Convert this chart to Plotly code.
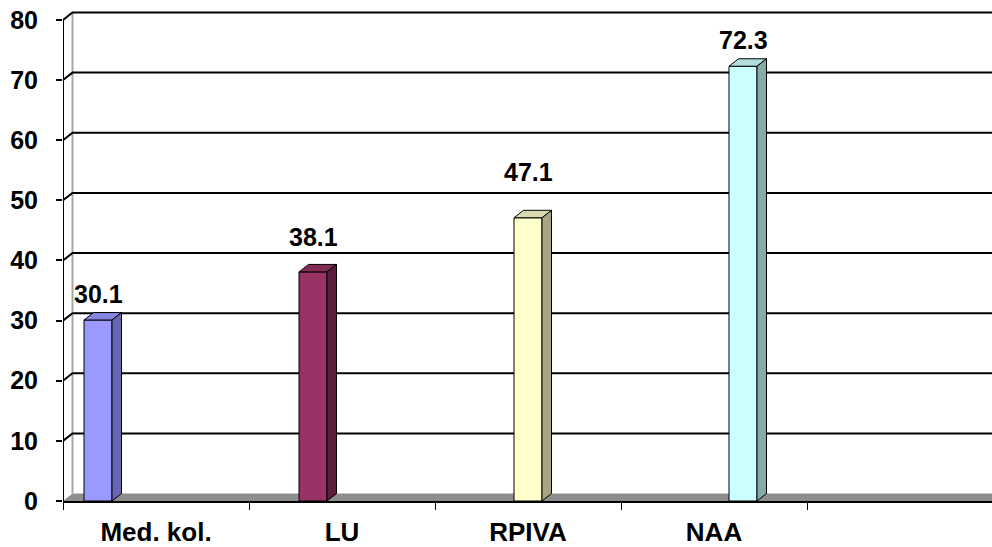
import plotly.graph_objects as go

# ---- data -------------------------------------------------------------
categories = ["Med. kol.", "LU", "RPIVA", "NAA", ""]
values = [30.1, 38.1, 47.1, 72.3]
y_ticks = [0, 10, 20, 30, 40, 50, 60, 70, 80]

# ---- colours: front / top / side face of each column -------------------
front_colors = ["#9999FF", "#993366", "#FFFFCC", "#CCFFFF"]
top_colors = ["#8585E0", "#822B57", "#DADAB0", "#B0DEDE"]
side_colors = ["#6666B3", "#5E1F3E", "#A6A684", "#86AAAA"]

FONT = "Liberation Sans, Arial, Helvetica, sans-serif"

# ---- geometry of the page ---------------------------------------------
W, H = 992, 547
m_l, m_r, m_t, m_b = 63, 0, 8, 43
plot_w = W - m_l - m_r
plot_h = H - m_t - m_b
cat_px = 186                        # pixels per category
y_top_px = 20                       # pixel row of the top tick
px_per_y = (H - m_b - y_top_px) / y_ticks[-1]

x0 = -0.5
x_max = x0 + plot_w / cat_px
y_max = plot_h / px_per_y

# 3-D depth offset (right and up), in data units
dx = 9.5 / cat_px
dy = 7.5 / px_per_y

slot = 29 / cat_px                  # spacing of series within a category
bar_w = 28 / cat_px
n_series = 5

fig = go.Figure()
shapes = []

# floor
x_end = x_max + 0.2
shapes.append(dict(
    type="path", layer="below", xref="x", yref="y",
    path=f"M {x0},0 L {x_end},0 L {x_end + dx},{dy} L {x0 + dx},{dy} Z",
    fillcolor="#8E8E8E", line=dict(width=0)))

# back-wall left edge
shapes.append(dict(
    type="line", layer="below", xref="x", yref="y",
    x0=x0 + dx, y0=dy, x1=x0 + dx, y1=y_ticks[-1] + dy,
    line=dict(color="#A8A8A8", width=2)))

# gridlines: diagonal across the side wall, then along the back wall
for v in y_ticks[1:]:
    shapes.append(dict(
        type="path", layer="below", xref="x", yref="y",
        path=f"M {x0},{v} L {x0 + dx},{v + dy} L {x_end},{v + dy}",
        line=dict(color="#000000", width=2)))

# front value axis line
shapes.append(dict(
    type="line", layer="below", xref="x", yref="y",
    x0=x0, y0=0, x1=x0, y1=y_ticks[-1],
    line=dict(color="#000000", width=2)))

annotations = []
label_shift = [26, 35, 46, 26]

for j, v in enumerate(values):
    off = (j - (n_series - 1) / 2) * slot
    fig.add_trace(go.Bar(
        x=[j], y=[v], width=bar_w, offset=off - bar_w / 2,
        marker=dict(color=front_colors[j], line=dict(color="#000000", width=1)),
        hoverinfo="skip", showlegend=False))
    c = j + off
    left, right = c - bar_w / 2, c + bar_w / 2
    # top face
    shapes.append(dict(
        type="path", layer="above", xref="x", yref="y",
        path=(f"M {left},{v} L {right},{v} L {right + dx},{v + dy} "
              f"L {left + dx},{v + dy} Z"),
        fillcolor=top_colors[j], line=dict(color="#000000", width=1)))
    # side face
    shapes.append(dict(
        type="path", layer="above", xref="x", yref="y",
        path=(f"M {right},0 L {right},{v} L {right + dx},{v + dy} "
              f"L {right + dx},{dy} Z"),
        fillcolor=side_colors[j], line=dict(color="#000000", width=1)))
    annotations.append(dict(
        x=c, y=v, xref="x", yref="y", text=f"{v}", showarrow=False,
        yshift=label_shift[j], yanchor="middle", xanchor="center",
        font=dict(family=FONT, size=25, color="#000000", weight="bold")))

fig.update_layout(
    width=W, height=H,
    margin=dict(l=m_l, r=m_r, t=m_t, b=m_b, pad=0),
    paper_bgcolor="#FFFFFF", plot_bgcolor="#FFFFFF",
    barmode="overlay", showlegend=False,
    shapes=shapes, annotations=annotations,
    xaxis=dict(
        range=[x0, x_max], tickmode="array",
        tickvals=list(range(len(categories))), ticktext=categories,
        ticks="", showgrid=False, zeroline=False,
        showline=True, linecolor="#000000", linewidth=2,
        ticklabelstandoff=7,
        minor=dict(tickvals=[x0 + k for k in range(len(categories) + 1)],
                   ticks="outside", ticklen=7, tickwidth=1,
                   tickcolor="#000000", showgrid=False),
        tickfont=dict(family=FONT, size=26, color="#000000", weight="bold"),
        fixedrange=True),
    yaxis=dict(
        range=[0, y_max], tickmode="array", tickvals=y_ticks,
        ticks="outside", ticklen=6, tickwidth=2, tickcolor="#000000",
        showgrid=False, zeroline=False, showline=False,
        ticklabelstandoff=13,
        tickfont=dict(family=FONT, size=25, color="#000000", weight="bold"),
        fixedrange=True),
)

fig.write_html("out.html")
